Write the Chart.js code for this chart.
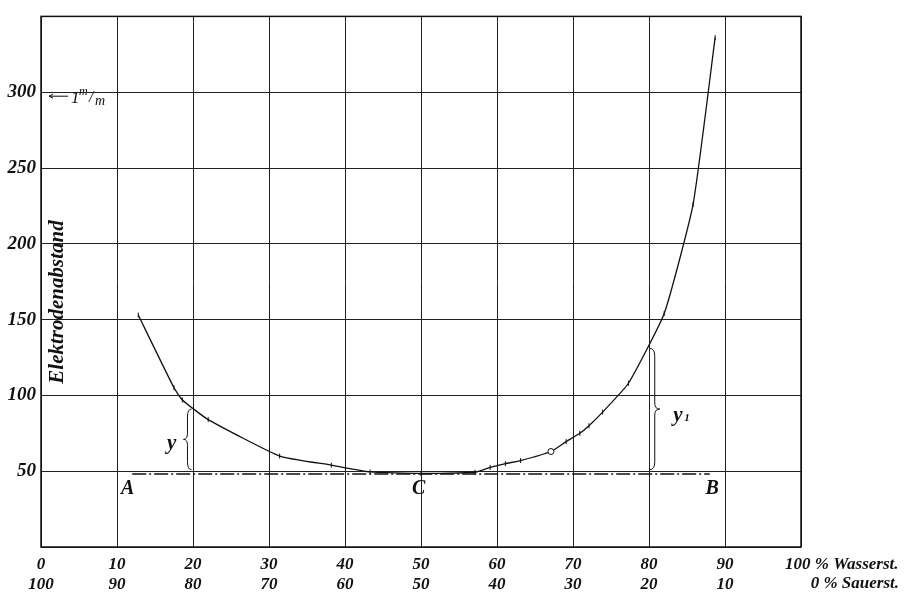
<!DOCTYPE html>
<html lang="de">
<head>
<meta charset="UTF-8">
<title>Elektrodenabstand</title>
<script src="https://cdn.jsdelivr.net/npm/chart.js@4.4.1/dist/chart.umd.min.js"></script>
<style>
  html, body { margin: 0; padding: 0; background: #fff; }
  #kurve { display: block; }
</style>
</head>
<body>
<canvas id="kurve" width="912" height="599"></canvas>
<script>
// Messpunkte: % Wasserstoff -> Elektrodenabstand
const wasserstoff = [12.8, 17.5, 18.6, 22, 31.4, 38.2, 43.3, 50, 57.1, 59.1, 61.1, 63.1, 67.1, 69.1, 70.9, 72.1, 73.9, 77.3, 82, 85.8, 88.7];
const abstand     = [153, 105, 97, 84, 60, 54, 49.5, 48.5, 49.3, 52.5, 55, 57, 63, 69.5, 75, 80, 89, 108, 154, 226, 336];
// Linie A - C - B
const linieAB_x = [12, 88];
const linieAB_y = [48.2, 48.2];
// Achsen
const xTicks = [0, 10, 20, 30, 40, 50, 60, 70, 80, 90, 100];
const yTicks = [50, 100, 150, 200, 250, 300];

const schrift = "'Liberation Serif', 'DejaVu Serif', serif";
const tinte = '#111';

function geschweifteKlammer(ctx, x, y1, y2, w) {
  // w < 0: Spitze nach links, w > 0: Spitze nach rechts
  const m = (y1 + y2) / 2;
  ctx.beginPath();
  ctx.moveTo(x, y1);
  ctx.quadraticCurveTo(x + w * 0.5, y1, x + w * 0.5, y1 + 8);
  ctx.lineTo(x + w * 0.5, m - 6);
  ctx.quadraticCurveTo(x + w * 0.5, m, x + w, m);
  ctx.quadraticCurveTo(x + w * 0.5, m, x + w * 0.5, m + 6);
  ctx.lineTo(x + w * 0.5, y2 - 8);
  ctx.quadraticCurveTo(x + w * 0.5, y2, x, y2);
  ctx.stroke();
}

const beschriftung = {
  id: 'beschriftung',
  afterDraw(chart) {
    const ctx = chart.ctx;
    const a = chart.chartArea;
    const sx = chart.scales.x, sy = chart.scales.y;
    ctx.save();
    ctx.strokeStyle = tinte;
    ctx.fillStyle = tinte;
    ctx.lineWidth = 1.5;
    ctx.strokeRect(a.left, a.top, a.right - a.left, a.bottom - a.top);

    // letzte Beschriftung der x-Achse
    const x100 = sx.getPixelForValue(100);
    ctx.font = 'bold italic 17px ' + schrift;
    ctx.textBaseline = 'middle';
    ctx.textAlign = 'left';
    ctx.fillText('100 % Wasserst.', x100 - 16, 565);
    ctx.textAlign = 'right';
    ctx.fillText('0 % Sauerst.', x100 + 98, 584);

    // Punkte A, C, B
    ctx.font = 'bold italic 20px ' + schrift;
    ctx.textAlign = 'center';
    ctx.fillText('A', sx.getPixelForValue(11.4), sy.getPixelForValue(38.3));
    ctx.fillText('C', sx.getPixelForValue(49.7), sy.getPixelForValue(38.3));
    ctx.fillText('B', sx.getPixelForValue(88.3), sy.getPixelForValue(38.3));

    // Klammern y und y1
    ctx.lineWidth = 1;
    geschweifteKlammer(ctx, sx.getPixelForValue(19.8), sy.getPixelForValue(91), sy.getPixelForValue(51), -8);
    geschweifteKlammer(ctx, sx.getPixelForValue(80.1), sy.getPixelForValue(131), sy.getPixelForValue(51), 10);
    ctx.font = 'bold italic 21px ' + schrift;
    ctx.fillText('y', sx.getPixelForValue(17.2), sy.getPixelForValue(68));
    ctx.textAlign = 'left';
    ctx.fillText('y', sx.getPixelForValue(83.2), sy.getPixelForValue(87));
    ctx.font = 'bold italic 11px ' + schrift;
    ctx.fillText('1', sx.getPixelForValue(83.2) + 11, sy.getPixelForValue(87) + 3);

    // Achsentitel
    ctx.save();
    ctx.translate(58, 302);
    ctx.rotate(-Math.PI / 2);
    ctx.textAlign = 'center';
    ctx.font = 'bold italic 21px ' + schrift;
    ctx.fillText('Elektrodenabstand', 0, 0);
    ctx.restore();

    // Massstab 1 m/m
    const y300 = sy.getPixelForValue(300) + 4;
    ctx.beginPath();
    ctx.moveTo(68, y300);
    ctx.lineTo(49, y300);
    ctx.moveTo(53, y300 - 2);
    ctx.lineTo(49, y300);
    ctx.lineTo(53, y300 + 2);
    ctx.stroke();
    ctx.textAlign = 'left';
    ctx.font = 'italic 17px ' + schrift;
    ctx.fillText('1', 71, y300 + 2);
    ctx.font = 'italic 12px ' + schrift;
    ctx.fillText('m', 79, y300 - 4);
    ctx.font = 'italic 16px ' + schrift;
    ctx.fillText('/', 89, y300 + 2);
    ctx.font = 'italic 14px ' + schrift;
    ctx.fillText('m', 95, y300 + 5);
    ctx.restore();
  }
};

const punkte = wasserstoff.map((x, i) => ({ x: x, y: abstand[i] }));
const linieAB = linieAB_x.map((x, i) => ({ x: x, y: linieAB_y[i] }));
const kreisIndex = wasserstoff.indexOf(67.1);

new Chart(document.getElementById('kurve'), {
  type: 'line',
  data: {
    datasets: [
      {
        label: 'Elektrodenabstand',
        data: punkte,
        borderColor: tinte,
        borderWidth: 1.3,
        tension: 0.15,
        pointStyle: punkte.map((p, i) => i === kreisIndex ? 'circle' : 'line'),
        pointRotation: 90,
        pointRadius: punkte.map((p, i) => i === kreisIndex ? 3 : 2.5),
        pointBackgroundColor: '#fff',
        pointBorderColor: tinte,
        pointBorderWidth: 1
      },
      {
        label: 'A - B',
        data: linieAB,
        borderColor: tinte,
        borderWidth: 1.5,
        borderDash: [14, 3, 2, 3],
        pointRadius: 0
      }
    ]
  },
  options: {
    responsive: false,
    animation: false,
    devicePixelRatio: 1,
    layout: { padding: { top: 6, right: 111, left: 0, bottom: 0 } },
    plugins: { legend: { display: false }, tooltip: { enabled: false } },
    scales: {
      x: {
        type: 'linear',
        min: 0,
        max: 100,
        afterBuildTicks: s => { s.ticks = xTicks.map(v => ({ value: v })); },
        afterFit: s => { s.height = 52; },
        grid: { color: '#222', lineWidth: 1, drawTicks: false },
        border: { display: false },
        ticks: {
          padding: 8,
          maxRotation: 0,
          autoSkip: false,
          color: tinte,
          font: { family: schrift, size: 17, style: 'italic', weight: 'bold', lineHeight: 1.15 },
          callback: v => v === 100 ? '' : [String(v), String(100 - v)]
        }
      },
      y: {
        min: 0,
        max: 350,
        afterBuildTicks: s => { s.ticks = [0].concat(yTicks, [350]).map(v => ({ value: v })); },
        afterFit: s => { s.width = 41; },
        grid: { color: '#222', lineWidth: 1, drawTicks: false },
        border: { display: false },
        ticks: {
          padding: 5,
          color: tinte,
          font: { family: schrift, size: 19, style: 'italic', weight: 'bold' },
          callback: v => yTicks.includes(v) ? String(v) : ''
        }
      }
    }
  },
  plugins: [beschriftung]
});
</script>
</body>
</html>
